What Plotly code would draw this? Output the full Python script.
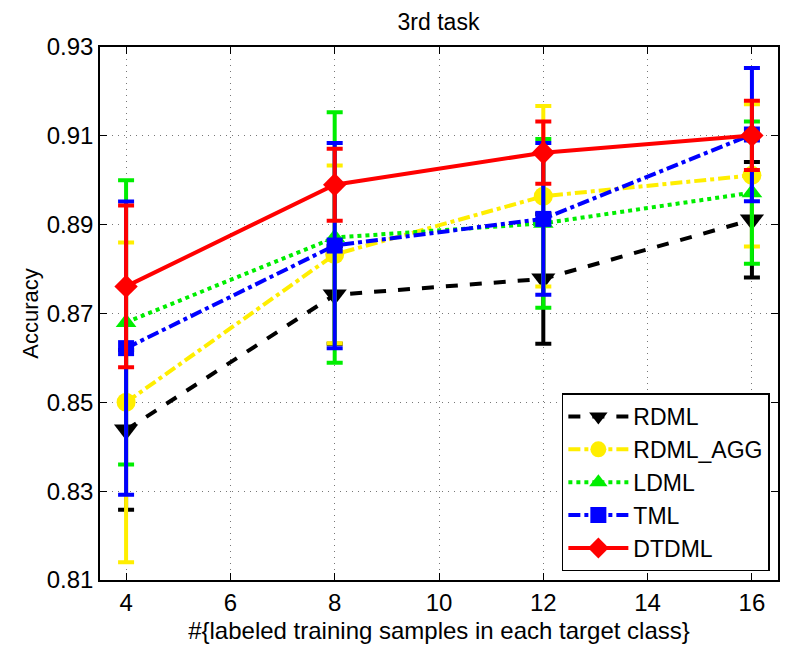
import plotly.graph_objects as go

x_vals = [4, 8, 12, 16]
series_names = ["RDML", "RDML_AGG", "LDML", "TML", "DTDML"]
rdml = [0.8438, 0.8742, 0.8778, 0.8911]
rdml_err = [0.018, 0.011, 0.0146, 0.013]
rdml_agg = [0.850, 0.8833, 0.8964, 0.9011]
rdml_agg_err = [0.036, 0.020, 0.0203, 0.016]
ldml = [0.868, 0.8871, 0.8903, 0.8972]
ldml_err = [0.032, 0.0282, 0.019, 0.016]
tml = [0.8622, 0.8853, 0.8913, 0.9103]
tml_err = [0.033, 0.0231, 0.0171, 0.015]
dtdml = [0.8761, 0.899, 0.9062, 0.9101]
dtdml_err = [0.0182, 0.0081, 0.007, 0.0078]
y_ticks = [0.81, 0.83, 0.85, 0.87, 0.89, 0.91, 0.93]
x_ticks = [4, 6, 8, 10, 12, 14, 16]

styles = [
    dict(color="#000000", dash="dash", symbol="triangle-down", size=21),
    dict(color="#ffee00", dash="dashdot", symbol="circle", size=19),
    dict(color="#00ee00", dash="dot", symbol="triangle-up", size=18),
    dict(color="#0000ff", dash="dashdot", symbol="square", size=16),
    dict(color="#ff0000", dash="solid", symbol="diamond", size=18),
]
values = [rdml, rdml_agg, ldml, tml, dtdml]
errors = [rdml_err, rdml_agg_err, ldml_err, tml_err, dtdml_err]

fig = go.Figure()
for name, y, e, s in zip(series_names, values, errors, styles):
    fig.add_trace(go.Scatter(
        x=x_vals, y=y, name=name, mode="lines+markers",
        line=dict(color=s["color"], width=4, dash=s["dash"]),
        marker=dict(symbol=s["symbol"], size=s["size"], color=s["color"],
                    line=dict(width=0)),
        error_y=dict(type="data", array=e, visible=True, color=s["color"],
                     thickness=4, width=8),
    ))

font_family = "Liberation Sans, Arial, sans-serif"
fig.update_layout(
    width=812, height=652,
    margin=dict(l=100, r=34, t=47, b=70),
    paper_bgcolor="white", plot_bgcolor="white",
    font=dict(family=font_family, size=24, color="black"),
    title=dict(text="3rd task", x=0.54, xanchor="center", y=0.967, yanchor="middle",
               font=dict(size=23)),
    showlegend=True,
    legend=dict(x=0.988, y=0.016, xanchor="right", yanchor="bottom",
                bgcolor="white", bordercolor="black", borderwidth=1.5,
                font=dict(size=23), tracegroupgap=0, itemwidth=60),
)
fig.update_xaxes(
    range=[3.5, 16.5], tickvals=x_ticks, ticktext=[str(t) for t in x_ticks],
    showline=True, linecolor="black", linewidth=1.5, mirror="ticks",
    ticks="inside", ticklen=7, tickcolor="black",
    showgrid=True, gridcolor="#777777", griddash="1px,5px", gridwidth=1,
    zeroline=False,
    title=dict(text="#{labeled training samples in each target class}", standoff=8,
               font=dict(size=24)),
    tickfont=dict(size=24),
)
fig.update_yaxes(
    range=[0.81, 0.93], tickvals=y_ticks, ticktext=[f"{t:.2f}" for t in y_ticks],
    showline=True, linecolor="black", linewidth=1.5, mirror="ticks",
    ticks="inside", ticklen=7, tickcolor="black",
    showgrid=True, gridcolor="#777777", griddash="1px,5px", gridwidth=1,
    zeroline=False,
    title=dict(text="Accuracy", standoff=2, font=dict(size=22)),
    tickfont=dict(size=24),
)

fig.write_html("out.html")
